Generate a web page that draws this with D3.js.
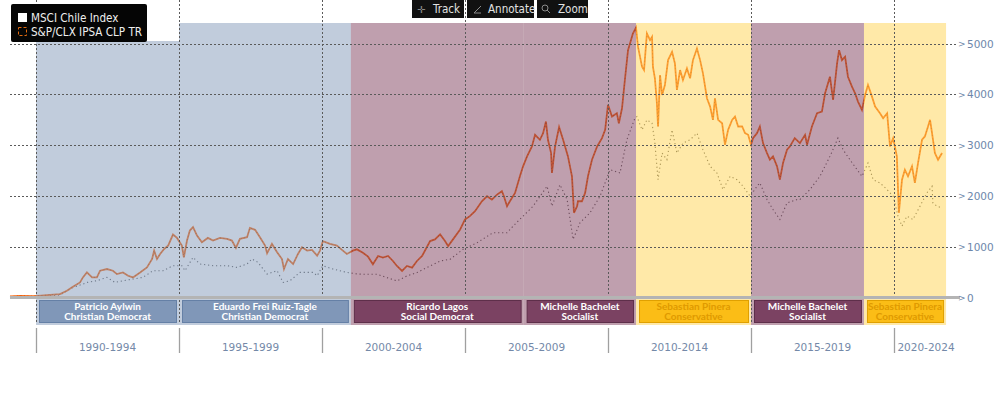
<!DOCTYPE html>
<head>
  <meta charset="utf-8">
  <title>Chile equities by presidency</title>
  <script src="https://cdn.jsdelivr.net/npm/d3@7"></script>
  <style>
    body { margin: 0; background: #fff; }
    svg { display: block; }
  </style>
</head>

<body>
  <div id="chart"></div>
</body>

<script>
  // values: [decimal year, index level]
  var ipsaSeries = [
    [1989.09,20],[1989.44,30],[1989.90,25],[1990.07,33],[1990.49,53],[1990.84,66],[1991.08,132],[1991.29,211],[1991.54,297],[1991.64,396],
    [1991.78,494],[1991.96,396],[1992.13,396],[1992.24,527],[1992.48,560],[1992.69,527],[1992.83,461],[1993.04,494],[1993.22,428],[1993.39,396],
    [1993.64,494],[1993.88,593],[1994.06,758],[1994.13,923],[1994.23,758],[1994.34,857],[1994.48,956],[1994.62,1022],[1994.79,1239],[1994.93,1173],
    [1995.10,1022],[1995.17,791],[1995.28,1121],[1995.38,1318],[1995.49,1384],[1995.63,1220],[1995.80,1088],[1996.01,1173],[1996.19,1121],[1996.43,1173],
    [1996.68,1154],[1996.85,1121],[1996.99,976],[1997.13,1154],[1997.38,1187],[1997.48,1371],[1997.66,1332],[1997.83,1187],[1998.01,1022],[1998.08,870],
    [1998.25,1055],[1998.43,890],[1998.60,758],[1998.67,560],[1998.81,758],[1998.99,659],[1999.16,857],[1999.30,989],[1999.48,923],[1999.65,936],
    [1999.83,824],[1999.93,923],[2000.03,1110],[2000.28,1055],[2000.52,1022],[2000.73,923],[2000.87,857],[2001.08,923],[2001.22,948],[2001.43,882],
    [2001.61,804],[2001.78,654],[2001.96,817],[2002.13,784],[2002.31,817],[2002.48,719],[2002.62,621],[2002.80,523],[2002.97,621],[2003.15,588],
    [2003.32,719],[2003.50,817],[2003.78,1111],[2003.95,1144],[2004.13,1242],[2004.30,1111],[2004.41,1013],[2004.58,1144],[2004.83,1340],[2005.00,1536],
    [2005.17,1601],[2005.35,1699],[2005.59,1895],[2005.77,1993],[2005.94,1928],[2006.12,2026],[2006.29,2092],[2006.36,1993],[2006.47,1797],[2006.57,1895],
    [2006.75,2059],[2006.92,2386],[2007.03,2582],[2007.17,2778],[2007.34,2974],[2007.45,3203],[2007.62,3105],[2007.73,3235],[2007.83,3464],[2007.90,3105],
    [2008.01,2843],[2008.04,2451],[2008.15,2974],[2008.29,3353],[2008.43,3105],[2008.60,2778],[2008.74,2386],[2008.81,1667],[2008.92,1797],[2008.95,1895],
    [2009.09,1895],[2009.20,2059],[2009.30,2386],[2009.44,2712],[2009.62,2974],[2009.79,3137],[2009.90,3301],[2010.00,3791],[2010.14,3562],[2010.31,3627],
    [2010.38,3431],[2010.49,3725],[2010.59,4281],[2010.70,4869],[2010.87,5196],[2010.98,5314],[2011.05,4935],[2011.19,4542],[2011.26,4477],[2011.36,5196],
    [2011.47,5065],[2011.54,5131],[2011.57,4542],[2011.64,4314],[2011.71,3824],[2011.75,3366],[2011.82,4379],[2011.89,3987],[2011.99,4183],[2012.10,4673],
    [2012.24,4837],[2012.34,4608],[2012.41,4085],[2012.52,4477],[2012.62,4281],[2012.76,4510],[2012.87,4314],[2012.97,4673],[2013.11,4902],[2013.22,4673],
    [2013.32,4412],[2013.46,3922],[2013.57,3758],[2013.67,3497],[2013.74,3922],[2013.85,3497],[2013.99,3431],[2014.09,3007],[2014.20,3301],[2014.34,3497],
    [2014.44,3562],[2014.55,3366],[2014.69,3366],[2014.79,3235],[2014.90,3203],[2015.00,3007],[2015.07,3137],[2015.21,3235],[2015.31,3366],[2015.42,3039],
    [2015.56,2843],[2015.66,2712],[2015.77,2778],[2015.91,2582],[2016.01,2320],[2016.12,2647],[2016.26,2908],[2016.36,2974],[2016.53,3137],[2016.71,3039],
    [2016.89,3203],[2016.96,3007],[2017.13,3366],[2017.31,3627],[2017.48,3660],[2017.59,4020],[2017.76,4346],[2017.87,3889],[2018.01,4608],[2018.08,4869],
    [2018.18,4673],[2018.29,4739],[2018.39,4346],[2018.53,4150],[2018.64,4020],[2018.74,3856],[2018.88,3693],[2018.99,3987],[2019.09,4183],[2019.23,3954],
    [2019.34,3758],[2019.51,3627],[2019.62,3529],[2019.76,3627],[2019.86,2974],[2019.97,3137],[2020.10,2778],[2020.17,1667],[2020.28,2320],[2020.38,2516],
    [2020.49,2386],[2020.63,2582],[2020.73,2255],[2020.84,2647],[2020.98,3105],[2021.08,3170],[2021.19,3366],[2021.26,3497],[2021.33,3235],[2021.43,2843],
    [2021.54,2712],[2021.68,2843]
  ];

  var msciSeries = [
    [1989.09,15],[1990.00,20],[1990.84,50],[1991.29,198],[1991.64,264],[1991.78,297],[1992.13,330],[1992.48,396],[1992.76,297],[1993.04,330],
    [1993.39,363],[1993.74,396],[1994.09,527],[1994.44,527],[1994.79,626],[1995.10,626],[1995.21,527],[1995.49,791],[1995.73,659],[1996.19,626],
    [1996.68,626],[1997.03,593],[1997.38,659],[1997.55,758],[1997.76,692],[1998.08,461],[1998.43,527],[1998.64,297],[1998.88,330],[1999.23,494],
    [1999.69,494],[1999.83,428],[2000.03,626],[2000.38,560],[2000.87,494],[2001.26,461],[2001.43,458],[2001.92,458],[2002.27,392],[2002.62,327],
    [2002.97,425],[2003.32,490],[2003.78,621],[2004.13,719],[2004.48,752],[2004.93,948],[2005.42,1078],[2005.98,1275],[2006.47,1275],[2006.68,1405],
    [2007.03,1601],[2007.38,1797],[2007.87,2190],[2008.04,1797],[2008.32,2222],[2008.57,1928],[2008.78,1144],[2009.02,1471],[2009.37,1667],[2009.72,1993],
    [2010.07,2516],[2010.42,2451],[2010.66,3105],[2010.94,3529],[2011.01,3562],[2011.19,3301],[2011.36,3497],[2011.54,3431],[2011.64,3039],[2011.75,2320],
    [2011.89,2843],[2012.06,2712],[2012.24,3301],[2012.41,2843],[2012.62,3039],[2012.87,3105],[2013.11,3235],[2013.32,2908],[2013.57,2582],[2013.81,2451],
    [2014.02,2124],[2014.27,2386],[2014.51,2320],[2014.72,2190],[2014.97,1993],[2015.21,2190],[2015.31,2255],[2015.56,1928],[2015.77,1732],[2016.01,1536],
    [2016.26,1863],[2016.61,1928],[2016.71,1928],[2017.06,2124],[2017.41,2386],[2017.76,2778],[2018.04,3137],[2018.22,2908],[2018.46,2712],[2018.71,2516],
    [2018.88,2386],[2019.09,2647],[2019.27,2320],[2019.51,2255],[2019.76,2124],[2019.97,1993],[2020.14,1601],[2020.28,1405],[2020.45,1601],[2020.66,1536],
    [2020.91,1797],[2021.15,2059],[2021.33,2190],[2021.36,1863],[2021.50,1797],[2021.68,1765]
  ];

  // presidencies
  var presidents = ["Patricio Aylwin", "Eduardo Frei Ruiz-Tagle", "Ricardo Lagos", "Michelle Bachelet",
                    "Sebastian Pinera", "Michelle Bachelet", "Sebastian Pinera"];
  var parties = ["Christian Democrat", "Christian Democrat", "Social Democrat", "Socialist",
                 "Conservative", "Socialist", "Conservative"];
  var termStart = [1990.0, 1995.0, 2001.01, 2007.05, 2010.98, 2015.0, 2018.95];
  var termEnd   = [1995.0, 2001.01, 2007.05, 2010.98, 2015.0, 2018.95, 2021.82];

  var yTicks = [0, 1000, 2000, 3000, 4000, 5000];
  var xTicks = [1990, 1995, 2000, 2005, 2010, 2015, 2020];
  var periodLabels = ["1990-1994", "1995-1999", "2000-2004", "2005-2009", "2010-2014", "2015-2019", "2020-2024"];

  var partyFill = {
    "Christian Democrat": "#8399b9",
    "Social Democrat": "#7f3f5d",
    "Socialist": "#7f3f5d",
    "Conservative": "#ffd351"
  };
  var boxFill = {
    "Christian Democrat": "#8097b8",
    "Social Democrat": "#7b4262",
    "Socialist": "#7b4262",
    "Conservative": "#fbbd16"
  };
  var boxStroke = {
    "Christian Democrat": "#6580a6",
    "Social Democrat": "#5e2f4a",
    "Socialist": "#5e2f4a",
    "Conservative": "#e0a000"
  };

  var width = 1000, height = 399;
  var plotRight = 958;
  var svg = d3.select("#chart").append("svg")
    .attr("width", width)
    .attr("height", height);

  var x = d3.scaleLinear().domain([1990, 2020]).range([36, 894]);
  var y = d3.scaleLinear().domain([0, 5000]).range([297.5, 43.5]);

  var line = d3.line()
    .x(function(d) { return x(d[0]); })
    .y(function(d) { return y(d[1]); });

  // lines sit under the translucent presidency bands
  svg.append("path")
    .datum(msciSeries)
    .attr("fill", "none")
    .attr("stroke", "#2e2e2e")
    .attr("stroke-opacity", 0.8)
    .attr("stroke-width", 1.1)
    .attr("stroke-dasharray", "1.2,2.8")
    .attr("d", line);

  svg.append("path")
    .datum(ipsaSeries)
    .attr("fill", "none")
    .attr("stroke", "#ff6a10")
    .attr("stroke-width", 1.8)
    .attr("d", line);

  svg.append("path")
    .datum(ipsaSeries)
    .attr("fill", "none")
    .attr("stroke", "#3a2018")
    .attr("stroke-width", 0.7)
    .attr("stroke-opacity", 0.6)
    .attr("stroke-dasharray", "1,2.5")
    .attr("d", line);

  // bands
  var terms = presidents.map(function(p, i) {
    return { name: p, party: parties[i], start: termStart[i], end: termEnd[i] };
  });

  svg.selectAll(".band")
    .data(terms)
    .enter().append("rect")
    .attr("class", "band")
    .attr("x", function(d) { return x(d.start); })
    .attr("y", function(d, i) { return i === 0 ? 41 : 23; })
    .attr("width", function(d) { return x(d.end) - x(d.start); })
    .attr("height", function(d, i) { return 325 - (i === 0 ? 41 : 23); })
    .attr("fill", function(d) { return partyFill[d.party]; })
    .attr("fill-opacity", 0.5);

  // grid
  var grid = svg.append("g")
    .attr("stroke", "#5a5a5a")
    .attr("stroke-width", 1)
    .attr("stroke-dasharray", "2,2");

  grid.selectAll(".hgrid")
    .data(yTicks.slice(1))
    .enter().append("line")
    .attr("x1", 10).attr("x2", plotRight)
    .attr("y1", function(d) { return Math.round(y(d)) + 0.5; })
    .attr("y2", function(d) { return Math.round(y(d)) + 0.5; });

  grid.selectAll(".vgrid")
    .data(xTicks)
    .enter().append("line")
    .attr("x1", function(d) { return Math.round(x(d)) + 0.5; })
    .attr("x2", function(d) { return Math.round(x(d)) + 0.5; })
    .attr("y1", 0).attr("y2", 323);

  svg.append("line")
    .attr("x1", 10).attr("x2", plotRight + 2)
    .attr("y1", y(0)).attr("y2", y(0))
    .attr("stroke", "#b4b4b4")
    .attr("stroke-width", 3);

  // right-hand tick labels
  var yl = svg.append("g")
    .attr("font-family", "DejaVu Sans, sans-serif")
    .attr("font-size", 10.5)
    .attr("fill", "#6d87aa");

  yl.selectAll(".arrow")
    .data(yTicks)
    .enter().append("text")
    .attr("x", 958)
    .attr("y", function(d) { return y(d) + 3.5; })
    .attr("font-size", 9)
    .text(">");

  yl.selectAll(".ylab")
    .data(yTicks)
    .enter().append("text")
    .attr("x", 967)
    .attr("y", function(d) { return y(d) + 4; })
    .text(function(d) { return d; });

  // presidency boxes
  var box = svg.selectAll(".box")
    .data(terms)
    .enter().append("g");

  box.append("rect")
    .attr("x", function(d) { return x(d.start) + 3.5; })
    .attr("y", 300.5)
    .attr("width", function(d) { return x(d.end) - x(d.start) - 6; })
    .attr("height", 22)
    .attr("fill", function(d) { return boxFill[d.party]; })
    .attr("stroke", function(d) { return boxStroke[d.party]; });

  box.append("text")
    .attr("x", function(d) { return (x(d.start) + x(d.end)) / 2; })
    .attr("y", 310)
    .attr("text-anchor", "middle")
    .attr("font-family", "Lato, sans-serif")
    .attr("font-weight", 700)
    .attr("font-size", 10)
    .attr("fill", function(d) { return d.party === "Conservative" ? "#df9a00" : "#ffffff"; })
    .text(function(d) { return d.name; });

  box.append("text")
    .attr("x", function(d) { return (x(d.start) + x(d.end)) / 2; })
    .attr("y", 320)
    .attr("text-anchor", "middle")
    .attr("font-family", "Lato, sans-serif")
    .attr("font-weight", 700)
    .attr("font-size", 10)
    .attr("fill", function(d) { return d.party === "Conservative" ? "#df9a00" : "#ffffff"; })
    .text(function(d) { return d.party; });

  // period axis along the bottom
  svg.selectAll(".sep")
    .data(xTicks)
    .enter().append("line")
    .attr("x1", function(d) { return Math.round(x(d)) + 0.5; })
    .attr("x2", function(d) { return Math.round(x(d)) + 0.5; })
    .attr("y1", 328).attr("y2", 353)
    .attr("stroke", "#a0a0a0")
    .attr("stroke-width", 1.3);

  svg.selectAll(".period")
    .data(periodLabels)
    .enter().append("text")
    .attr("x", function(d, i) {
      var a = x(xTicks[i]);
      var b = i < xTicks.length - 1 ? x(xTicks[i + 1]) : plotRight;
      return (a + b) / 2;
    })
    .attr("y", 351)
    .attr("text-anchor", "middle")
    .attr("font-family", "DejaVu Sans, sans-serif")
    .attr("font-size", 10.5)
    .attr("fill", "#7489a8")
    .text(function(d) { return d; });

  // legend
  var legend = svg.append("g");
  legend.append("rect")
    .attr("x", 11).attr("y", 4)
    .attr("width", 136).attr("height", 38)
    .attr("rx", 2)
    .attr("fill", "#050505");
  legend.append("rect")
    .attr("x", 18).attr("y", 13)
    .attr("width", 9).attr("height", 9)
    .attr("fill", "#ffffff");
  legend.append("rect")
    .attr("x", 18.5).attr("y", 27.5)
    .attr("width", 8).attr("height", 8)
    .attr("fill", "none")
    .attr("stroke", "#e06a10")
    .attr("stroke-dasharray", "3,2");
  legend.append("text")
    .attr("x", 31).attr("y", 22)
    .attr("font-family", "DejaVu Sans Condensed, DejaVu Sans, sans-serif")
    .attr("font-size", 11.6)
    .attr("fill", "#eeeeee")
    .text("MSCI Chile Index");
  legend.append("text")
    .attr("x", 31).attr("y", 36)
    .attr("font-family", "DejaVu Sans Condensed, DejaVu Sans, sans-serif")
    .attr("font-size", 11.6)
    .attr("fill", "#eeeeee")
    .text("S&P/CLX IPSA CLP TR");

  // toolbar
  var tools = [
    { label: "Track", x0: 412, x1: 464 },
    { label: "Annotate", x0: 467, x1: 534 },
    { label: "Zoom", x0: 537, x1: 588 }
  ];
  var tb = svg.append("g");
  tb.selectAll(".tool")
    .data(tools)
    .enter().append("rect")
    .attr("x", function(d) { return d.x0; })
    .attr("y", 0)
    .attr("width", function(d) { return d.x1 - d.x0; })
    .attr("height", 18)
    .attr("fill", "#111111");
  tb.selectAll(".toollab")
    .data(tools)
    .enter().append("text")
    .attr("x", function(d) { return d.x0 + 21; })
    .attr("y", 13)
    .attr("font-family", "DejaVu Sans Condensed, DejaVu Sans, sans-serif")
    .attr("font-size", 11.5)
    .attr("fill", "#e2e2e2")
    .text(function(d) { return d.label; });
  // icons
  tb.append("text")
    .attr("x", 417).attr("y", 13)
    .attr("font-family", "DejaVu Sans, sans-serif")
    .attr("font-size", 10)
    .attr("fill", "#8a8a8a")
    .text("\u271B");
  tb.append("path")
    .attr("d", "M474,13 L481,6 M474,13 L481,13")
    .attr("stroke", "#8a8a8a")
    .attr("fill", "none");
  tb.append("circle")
    .attr("cx", 545).attr("cy", 8).attr("r", 3)
    .attr("stroke", "#8a8a8a")
    .attr("fill", "none");
  tb.append("line")
    .attr("x1", 547).attr("y1", 10).attr("x2", 550).attr("y2", 13)
    .attr("stroke", "#8a8a8a");
</script>
